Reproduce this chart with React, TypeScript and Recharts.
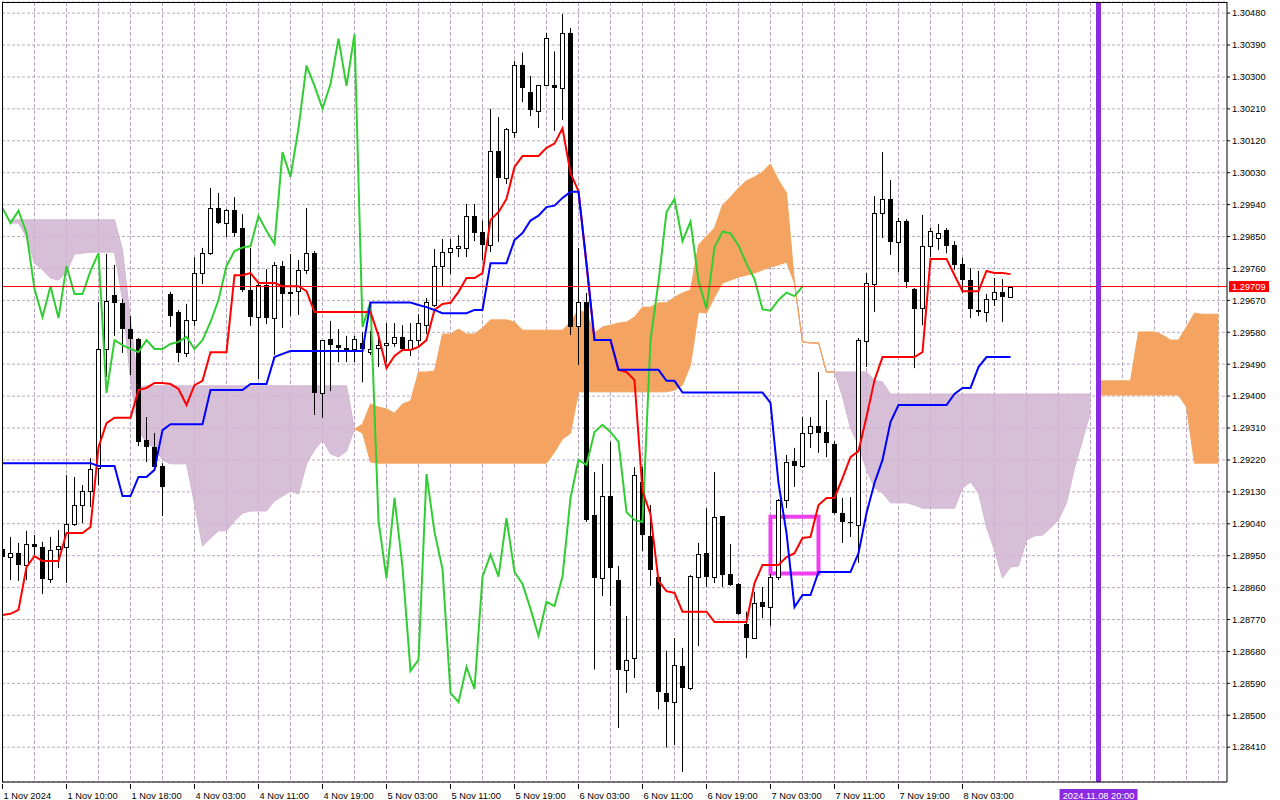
import React from 'react';
import {
  ComposedChart, Area, Bar, Line, XAxis, YAxis, CartesianGrid, ReferenceLine, ReferenceArea,
} from 'recharts';

// GBPUSD H1, bar 0 = 1 Nov 02:00. 127 candles, the kumo runs 26 bars past the last one.
const opens = [
  1.28969, 1.28946, 1.28957, 1.28924, 1.28983, 1.28975, 1.28884, 1.28969, 1.28975, 1.29039,
  1.29093, 1.29132, 1.29197, 1.29533, 1.29685, 1.29663, 1.29589, 1.29561, 1.29276, 1.29256,
  1.29203, 1.29688, 1.29637, 1.29522, 1.29615, 1.29747, 1.29803, 1.29930, 1.29888, 1.29925,
  1.29874, 1.29699, 1.29623, 1.29713, 1.29620, 1.29767, 1.29694, 1.29696, 1.29756, 1.29803,
  1.29409, 1.29561, 1.29544, 1.29536, 1.29533, 1.29550, 1.29524, 1.29536, 1.29544, 1.29550,
  1.29567, 1.29533, 1.29558, 1.29600, 1.29657, 1.29767, 1.29806, 1.29818, 1.29818, 1.29908,
  1.29863, 1.29825, 1.30090, 1.30015, 1.30145, 1.30334, 1.30258, 1.30204, 1.30277, 1.30277,
  1.30269, 1.30424, 1.29598, 1.29665, 1.29065, 1.28886, 1.29117, 1.28881, 1.28629, 1.28661,
  1.29158, 1.29006, 1.28890, 1.28563, 1.28539, 1.28640, 1.28577, 1.28890, 1.28957, 1.28890,
  1.29062, 1.28898, 1.28870, 1.28757, 1.28718, 1.28820, 1.28805, 1.28890, 1.29107, 1.29217,
  1.29203, 1.29296, 1.29316, 1.29299, 1.29265, 1.29070, 1.29045, 1.29037, 1.29555, 1.29716,
  1.29916, 1.29956, 1.29835, 1.29895, 1.29702, 1.29648, 1.29823, 1.29846, 1.29868, 1.29826,
  1.29773, 1.29727, 1.29643, 1.29637, 1.29674, 1.29694, 1.29682,
];
const highs = [
  1.28994, 1.29003, 1.28986, 1.29020, 1.29008, 1.28989, 1.29003, 1.29022, 1.29177, 1.29172,
  1.29149, 1.29225, 1.29665, 1.29801, 1.29770, 1.29674, 1.29626, 1.29564, 1.29341, 1.29296,
  1.29211, 1.29694, 1.29643, 1.29660, 1.29792, 1.29818, 1.29987, 1.29973, 1.29928, 1.29961,
  1.29913, 1.29818, 1.29716, 1.29758, 1.29778, 1.29781, 1.29801, 1.29784, 1.29930, 1.29809,
  1.29558, 1.29612, 1.29589, 1.29570, 1.29570, 1.29581, 1.29584, 1.29581, 1.29606, 1.29606,
  1.29600, 1.29606, 1.29631, 1.29677, 1.29815, 1.29843, 1.29843, 1.29854, 1.29942, 1.29942,
  1.29895, 1.30210, 1.30187, 1.30156, 1.30345, 1.30369, 1.30303, 1.30277, 1.30424, 1.30372,
  1.30477, 1.30438, 1.29818, 1.29691, 1.29186, 1.29209, 1.29271, 1.28921, 1.28780, 1.29200,
  1.29200, 1.29093, 1.28893, 1.28682, 1.28718, 1.28690, 1.28895, 1.28986, 1.29084, 1.29186,
  1.29062, 1.28983, 1.28873, 1.28792, 1.28848, 1.28862, 1.28898, 1.29110, 1.29234, 1.29254,
  1.29341, 1.29341, 1.29468, 1.29389, 1.29273, 1.29113, 1.29115, 1.29564, 1.29747, 1.29964,
  1.30088, 1.30009, 1.29903, 1.29899, 1.29705, 1.29911, 1.29874, 1.29885, 1.29874, 1.29837,
  1.29790, 1.29761, 1.29753, 1.29688, 1.29733, 1.29730, 1.29710,
];
const lows = [
  1.28921, 1.28881, 1.28879, 1.28881, 1.28946, 1.28842, 1.28873, 1.28915, 1.28873, 1.29034,
  1.29042, 1.29087, 1.29149, 1.29454, 1.29570, 1.29522, 1.29459, 1.29259, 1.29214, 1.29192,
  1.29062, 1.29595, 1.29496, 1.29510, 1.29598, 1.29716, 1.29798, 1.29885, 1.29849, 1.29849,
  1.29694, 1.29598, 1.29448, 1.29603, 1.29516, 1.29592, 1.29626, 1.29629, 1.29744, 1.29347,
  1.29339, 1.29414, 1.29496, 1.29496, 1.29496, 1.29439, 1.29516, 1.29482, 1.29496, 1.29539,
  1.29527, 1.29513, 1.29541, 1.29575, 1.29651, 1.29708, 1.29744, 1.29792, 1.29792, 1.29837,
  1.29784, 1.29806, 1.29835, 1.29998, 1.30128, 1.30229, 1.30190, 1.30156, 1.30275, 1.30148,
  1.30179, 1.29572, 1.29488, 1.29045, 1.28629, 1.28836, 1.28808, 1.28464, 1.28563, 1.28605,
  1.28963, 1.28865, 1.28517, 1.28409, 1.28416, 1.28340, 1.28571, 1.28695, 1.28862, 1.28873,
  1.28862, 1.28865, 1.28783, 1.28661, 1.28715, 1.28774, 1.28752, 1.28881, 1.29084, 1.29144,
  1.29197, 1.29254, 1.29240, 1.29228, 1.29067, 1.28986, 1.29003, 1.28930, 1.29482, 1.29637,
  1.29846, 1.29798, 1.29750, 1.29705, 1.29479, 1.29600, 1.29792, 1.29812, 1.29803, 1.29756,
  1.29691, 1.29620, 1.29626, 1.29609, 1.29654, 1.29609, 1.29679,
];
const closes = [
  1.28946, 1.28957, 1.28924, 1.28983, 1.28975, 1.28884, 1.28966, 1.28977, 1.29039, 1.29093,
  1.29132, 1.29194, 1.29533, 1.29668, 1.29663, 1.29589, 1.29561, 1.29271, 1.29256, 1.29200,
  1.29144, 1.29626, 1.29522, 1.29615, 1.29747, 1.29803, 1.29930, 1.29888, 1.29925, 1.29860,
  1.29699, 1.29623, 1.29713, 1.29620, 1.29770, 1.29688, 1.29688, 1.29756, 1.29803, 1.29409,
  1.29558, 1.29544, 1.29536, 1.29524, 1.29561, 1.29533, 1.29533, 1.29544, 1.29551, 1.29567,
  1.29533, 1.29558, 1.29606, 1.29665, 1.29767, 1.29806, 1.29818, 1.29823, 1.29908, 1.29860,
  1.29825, 1.30090, 1.30015, 1.30153, 1.30334, 1.30269, 1.30207, 1.30277, 1.30410, 1.30269,
  1.30424, 1.29595, 1.29665, 1.29051, 1.28886, 1.29117, 1.28915, 1.28626, 1.28657, 1.29177,
  1.29008, 1.28910, 1.28566, 1.28539, 1.28643, 1.28577, 1.28893, 1.28955, 1.28890, 1.29059,
  1.28895, 1.28867, 1.28786, 1.28718, 1.28816, 1.28805, 1.28890, 1.29107, 1.29214, 1.29203,
  1.29295, 1.29316, 1.29296, 1.29268, 1.29070, 1.29045, 1.29042, 1.29558, 1.29719, 1.29916,
  1.29956, 1.29835, 1.29895, 1.29722, 1.29646, 1.29823, 1.29866, 1.29860, 1.29823, 1.29770,
  1.29727, 1.29646, 1.29637, 1.29674, 1.29694, 1.29679, 1.29709,
];

const tenkan = [
  1.28783, 1.28786, 1.28797, 1.28918, 1.28949, 1.28935, 1.28935, 1.28935, 1.29014, 1.29014,
  1.29014, 1.29031, 1.29256, 1.29324, 1.29339, 1.29339, 1.29339, 1.29417, 1.29423, 1.29437,
  1.29437, 1.29434, 1.29420, 1.29375, 1.29431, 1.29443, 1.29524, 1.29524, 1.29524, 1.29741,
  1.29741, 1.29747, 1.29719, 1.29719, 1.29719, 1.29710, 1.29710, 1.29710, 1.29696, 1.29637,
  1.29637, 1.29637, 1.29637, 1.29637, 1.29637, 1.29637, 1.29637, 1.29570, 1.29479, 1.29513,
  1.29530, 1.29530, 1.29539, 1.29558, 1.29643, 1.29660, 1.29663, 1.29694, 1.29733, 1.29733,
  1.29747, 1.29897, 1.29919, 1.29956, 1.30046, 1.30077, 1.30077, 1.30077, 1.30100, 1.30112,
  1.30155, 1.30029, 1.29978, 1.29770, 1.29558, 1.29558, 1.29558, 1.29474, 1.29468, 1.29445,
  1.29132, 1.29067, 1.28879, 1.28850, 1.28845, 1.28792, 1.28792, 1.28792, 1.28792, 1.28763,
  1.28763, 1.28763, 1.28763, 1.28763, 1.28873, 1.28924, 1.28924, 1.28924, 1.28946, 1.28957,
  1.29000, 1.29003, 1.29093, 1.29113, 1.29113, 1.29169, 1.29228, 1.29245, 1.29341, 1.29445,
  1.29510, 1.29510, 1.29510, 1.29510, 1.29510, 1.29524, 1.29787, 1.29787, 1.29787, 1.29741,
  1.29696, 1.29696, 1.29696, 1.29753, 1.29747, 1.29747, 1.29744,
];
const kijun = [
  1.29211, 1.29211, 1.29211, 1.29211, 1.29211, 1.29211, 1.29211, 1.29211, 1.29211, 1.29211,
  1.29211, 1.29211, 1.29203, 1.29203, 1.29203, 1.29118, 1.29118, 1.29172, 1.29172, 1.29192,
  1.29304, 1.29321, 1.29321, 1.29321, 1.29321, 1.29321, 1.29417, 1.29417, 1.29417, 1.29417,
  1.29417, 1.29434, 1.29434, 1.29434, 1.29510, 1.29519, 1.29527, 1.29527, 1.29527, 1.29527,
  1.29527, 1.29527, 1.29527, 1.29527, 1.29527, 1.29527, 1.29664, 1.29664, 1.29664, 1.29664,
  1.29664, 1.29664, 1.29657, 1.29651, 1.29643, 1.29634, 1.29634, 1.29634, 1.29634, 1.29643,
  1.29643, 1.29775, 1.29775, 1.29775, 1.29840, 1.29860, 1.29895, 1.29909, 1.29933, 1.29937,
  1.29959, 1.29976, 1.29976, 1.29775, 1.29558, 1.29558, 1.29558, 1.29474, 1.29474, 1.29474,
  1.29474, 1.29474, 1.29474, 1.29443, 1.29443, 1.29410, 1.29410, 1.29410, 1.29410, 1.29410,
  1.29410, 1.29410, 1.29410, 1.29410, 1.29410, 1.29410, 1.29381, 1.29155, 1.29014, 1.28805,
  1.28839, 1.28839, 1.28904, 1.28904, 1.28904, 1.28904, 1.28904, 1.28957, 1.29070, 1.29155,
  1.29220, 1.29327, 1.29375, 1.29375, 1.29375, 1.29375, 1.29375, 1.29375, 1.29375, 1.29406,
  1.29423, 1.29423, 1.29482, 1.29510, 1.29510, 1.29510, 1.29510,
];
const chikou = [
  1.29930, 1.29888, 1.29923, 1.29860, 1.29702, 1.29623, 1.29710, 1.29620, 1.29767, 1.29688,
  1.29688, 1.29753, 1.29803, 1.29409, 1.29558, 1.29544, 1.29533, 1.29524, 1.29558, 1.29533,
  1.29533, 1.29547, 1.29553, 1.29567, 1.29533, 1.29558, 1.29609, 1.29671, 1.29767, 1.29809,
  1.29819, 1.29823, 1.29908, 1.29866, 1.29829, 1.30088, 1.30018, 1.30156, 1.30332, 1.30275,
  1.30211, 1.30280, 1.30408, 1.30275, 1.30421, 1.29595, 1.29665, 1.29048, 1.28886, 1.29113,
  1.28918, 1.28625, 1.28656, 1.29180, 1.29017, 1.28912, 1.28563, 1.28537, 1.28636, 1.28574,
  1.28891, 1.28953, 1.28891, 1.29056, 1.28904, 1.28870, 1.28800, 1.28724, 1.28820, 1.28808,
  1.28891, 1.29113, 1.29220, 1.29206, 1.29299, 1.29319, 1.29299, 1.29271, 1.29073, 1.29051,
  1.29045, 1.29558, 1.29722, 1.29919, 1.29956, 1.29837, 1.29892, 1.29725, 1.29646, 1.29820,
  1.29864, 1.29859, 1.29825, 1.29773, 1.29730, 1.29645, 1.29641, 1.29671, 1.29692, 1.29682,
  1.29709,
];
const spanA = [
  1.29933, 1.29888, 1.29888, 1.29849, 1.29775, 1.29756, 1.29733, 1.29727, 1.29750, 1.29801,
  1.29803, 1.29806, 1.29806, 1.29806, 1.29806, 1.29671, 1.29445, 1.29304, 1.29268, 1.29254,
  1.29220, 1.29209, 1.29209, 1.29209, 1.29096, 1.28977, 1.29000, 1.29020, 1.29020, 1.29048,
  1.29070, 1.29076, 1.29076, 1.29076, 1.29104, 1.29118, 1.29132, 1.29124, 1.29209, 1.29248,
  1.29276, 1.29237, 1.29228, 1.29245, 1.29307, 1.29321, 1.29378, 1.29369, 1.29364, 1.29352,
  1.29378, 1.29386, 1.29468, 1.29468, 1.29471, 1.29575, 1.29575, 1.29589, 1.29575, 1.29575,
  1.29592, 1.29615, 1.29615, 1.29615, 1.29609, 1.29586, 1.29586, 1.29586, 1.29586, 1.29586,
  1.29586, 1.29609, 1.29643, 1.29634, 1.29578, 1.29595, 1.29600, 1.29606, 1.29609, 1.29623,
  1.29651, 1.29651, 1.29663, 1.29663, 1.29679, 1.29691, 1.29699, 1.29826, 1.29851, 1.29874,
  1.29939, 1.29961, 1.29987, 1.30007, 1.30018, 1.30032, 1.30055, 1.30009, 1.29973, 1.29719,
  1.29553, 1.29550, 1.29550, 1.29468, 1.29468, 1.29398, 1.29310, 1.29262, 1.29192, 1.29141,
  1.29127, 1.29099, 1.29099, 1.29099, 1.29093, 1.29084, 1.29084, 1.29084, 1.29084, 1.29084,
  1.29141, 1.29158, 1.29127, 1.29031, 1.28966, 1.28887, 1.28918, 1.28921, 1.28994, 1.29006,
  1.29008, 1.29028, 1.29051, 1.29099, 1.29197, 1.29276, 1.29355, 1.29443, 1.29443, 1.29443,
  1.29443, 1.29443, 1.29581, 1.29581, 1.29581, 1.29572, 1.29558, 1.29558, 1.29595, 1.29634,
  1.29631, 1.29631, 1.29631,
];
const spanB = [
  1.29897, 1.29897, 1.29897, 1.29897, 1.29897, 1.29897, 1.29897, 1.29897, 1.29897, 1.29897,
  1.29897, 1.29897, 1.29897, 1.29897, 1.29897, 1.29812, 1.29615, 1.29426, 1.29429, 1.29429,
  1.29429, 1.29429, 1.29429, 1.29429, 1.29429, 1.29429, 1.29429, 1.29429, 1.29429, 1.29429,
  1.29429, 1.29429, 1.29429, 1.29429, 1.29429, 1.29429, 1.29429, 1.29429, 1.29429, 1.29429,
  1.29429, 1.29429, 1.29429, 1.29429, 1.29307, 1.29296, 1.29214, 1.29211, 1.29211, 1.29211,
  1.29211, 1.29211, 1.29211, 1.29211, 1.29211, 1.29211, 1.29211, 1.29211, 1.29211, 1.29211,
  1.29211, 1.29211, 1.29211, 1.29211, 1.29211, 1.29211, 1.29211, 1.29211, 1.29211, 1.29242,
  1.29279, 1.29295, 1.29412, 1.29412, 1.29412, 1.29412, 1.29412, 1.29412, 1.29412, 1.29412,
  1.29412, 1.29412, 1.29412, 1.29412, 1.29417, 1.29431, 1.29488, 1.29637, 1.29634, 1.29679,
  1.29719, 1.29727, 1.29736, 1.29741, 1.29747, 1.29756, 1.29764, 1.29770, 1.29778, 1.29719,
  1.29553, 1.29550, 1.29550, 1.29468, 1.29468, 1.29468, 1.29468, 1.29468, 1.29468, 1.29445,
  1.29440, 1.29406, 1.29406, 1.29406, 1.29406, 1.29406, 1.29406, 1.29406, 1.29406, 1.29406,
  1.29406, 1.29406, 1.29406, 1.29406, 1.29406, 1.29406, 1.29406, 1.29406, 1.29406, 1.29406,
  1.29406, 1.29406, 1.29406, 1.29406, 1.29406, 1.29406, 1.29406, 1.29403, 1.29403, 1.29403,
  1.29403, 1.29403, 1.29403, 1.29403, 1.29403, 1.29403, 1.29403, 1.29403, 1.29369, 1.29211,
  1.29211, 1.29211, 1.29211,
];

const xTickBars = [0, 8, 16, 24, 32, 40, 48, 56, 64, 72, 80, 88, 96, 104, 112, 120];
const xTickLabels = [
  '1 Nov 2024', '1 Nov 10:00', '1 Nov 18:00', '4 Nov 03:00', '4 Nov 11:00', '4 Nov 19:00',
  '5 Nov 03:00', '5 Nov 11:00', '5 Nov 19:00', '6 Nov 03:00', '6 Nov 11:00', '6 Nov 19:00',
  '7 Nov 03:00', '7 Nov 11:00', '7 Nov 19:00', '8 Nov 03:00',
];
const gridBars = [
  0, 4, 8, 12, 16, 20, 24, 28, 32, 36, 40, 44, 48, 52, 56, 60, 64, 68, 72, 76,
  80, 84, 88, 92, 96, 100, 104, 108, 112, 116, 120, 124, 128, 132, 136, 140, 144, 148, 152,
];
const priceTicks = [
  1.28410, 1.28500, 1.28590, 1.28680, 1.28770, 1.28860, 1.28950, 1.29040, 1.29130, 1.29220,
  1.29310, 1.29400, 1.29490, 1.29580, 1.29670, 1.29760, 1.29850, 1.29940, 1.30030, 1.30120,
  1.30210, 1.30300, 1.30390, 1.30480,
];

const bidPrice = 1.29709;
const markerBar = 137;
const markerLabel = '2024.11.08 20:00';
const boxBars = [96, 102];
const boxPrices = [1.28900, 1.29060];

const FONT = '"Liberation Sans", Arial, sans-serif';
const GRID = '#bba9bf';

const data = spanA.map((a, k) => {
  const b = spanB[k];
  const hasCandle = k < closes.length;
  return {
    k,
    range: hasCandle ? [lows[k], highs[k]] : undefined,
    open: hasCandle ? opens[k] : null,
    high: hasCandle ? highs[k] : null,
    low: hasCandle ? lows[k] : null,
    close: hasCandle ? closes[k] : null,
    tenkan: tenkan[k] ?? null,
    kijun: kijun[k] ?? null,
    chikou: chikou[k] ?? null,
    kumoUp: a >= b ? [b, a] : null,
    kumoDown: a <= b ? [a, b] : null,
  };
});

// body/wick positions come from the bar the library laid out for [low, high]
function Candle(props: any) {
  const { x, y, width, height, payload } = props;
  if (!payload || payload.high == null || !Number.isFinite(y) || !Number.isFinite(height)) return null;
  const top = Math.min(y, y + height);
  const span = Math.abs(height);
  const perUnit = span / (payload.high - payload.low || 1);
  const at = (v: number) => top + (payload.high - v) * perUnit;
  const cx = Math.floor(x + width / 2) + 0.5;
  const yo = at(payload.open);
  const yc = at(payload.close);
  const bull = payload.close > payload.open;
  const bTop = Math.round(Math.min(yo, yc));
  const bH = Math.max(1, Math.round(Math.abs(yo - yc)));
  return (
    <g>
      <line x1={cx} x2={cx} y1={top} y2={top + span} stroke="#000" strokeWidth={1} />
      {bull ? (
        <rect x={cx - 2} y={bTop + 0.5} width={4} height={bH} fill="#fff" stroke="#000" strokeWidth={1} />
      ) : (
        <rect x={cx - 2.5} y={bTop} width={5} height={bH} fill="#000" />
      )}
    </g>
  );
}

const TimeTick = ({ x, y, payload }: any) => {
  const i = xTickBars.indexOf(payload.value);
  const lx = Math.floor(x) + 0.5;
  return (
    <g>
      <line x1={lx} x2={lx} y1={y} y2={y + 5} stroke="#000" />
      <text x={x + 1} y={y + 15} fontSize={9.3} fontFamily={FONT} fill="#000">{xTickLabels[i]}</text>
    </g>
  );
};

const PriceTag = ({ viewBox }: any) => {
  const right = viewBox.x + viewBox.width;
  return (
    <g>
      <rect x={right + 2} y={viewBox.y - 5.5} width={40} height={11} fill="#ff0000" />
      <text x={right + 5} y={viewBox.y + 3.5} fontSize={9.3} fontFamily={FONT} fill="#fff">
        {bidPrice.toFixed(5)}
      </text>
    </g>
  );
};

const MarkerTag = ({ viewBox }: any) => {
  const cx = viewBox.x;
  const bottom = viewBox.y + viewBox.height;
  return (
    <g>
      <rect x={cx - 39} y={bottom + 7} width={78} height={12} fill="#8a2be2" />
      <text x={cx} y={bottom + 16.5} textAnchor="middle" fontSize={9.3} fontFamily={FONT} fill="#fff">
        {markerLabel}
      </text>
    </g>
  );
};

export default function App() {
  return (
    <div style={{ position: 'absolute', left: 0, top: 0, width: 1280, height: 800, background: '#fff' }}>
      <ComposedChart width={1280} height={800} data={data} margin={{ top: 2, right: 0, bottom: 0, left: 2 }}>
        <CartesianGrid vertical={false} stroke={GRID} strokeDasharray="3 2" />
        <CartesianGrid horizontal={false} verticalValues={gridBars} stroke={GRID} strokeDasharray="4 2" />
        <XAxis
          dataKey="k"
          type="number"
          domain={[-0.0625, 153.0625]}
          allowDataOverflow
          ticks={xTickBars}
          interval={0}
          tick={<TimeTick />}
          tickLine={false}
          tickSize={0}
          axisLine={{ stroke: '#000' }}
          height={18}
        />
        <YAxis
          orientation="right"
          type="number"
          domain={[1.283118, 1.305114]}
          allowDataOverflow
          ticks={priceTicks}
          interval={0}
          tickFormatter={(v: number) => v.toFixed(5)}
          width={53}
          tickSize={3}
          tickMargin={2}
          axisLine={{ stroke: '#000' }}
          tickLine={{ stroke: '#000' }}
          tick={{ fontSize: 9.3, fill: '#000', fontFamily: FONT }}
        />

        {/* kumo; the thistle part lets the grid show through like the terminal does */}
        <Area type="linear" dataKey="kumoDown" stroke="#d3b6d3" strokeWidth={1} fill="#d0b1d0" fillOpacity={0.82}
          dot={false} activeDot={false} isAnimationActive={false} />
        <Area type="linear" dataKey="kumoUp" stroke="#f4a460" strokeWidth={1} fill="#f4a460" fillOpacity={1}
          dot={false} activeDot={false} isAnimationActive={false} />

        <Bar dataKey="range" barSize={5} shape={Candle} isAnimationActive={false} />

        <Line type="linear" dataKey="chikou" stroke="#32cd32" strokeWidth={2} dot={false} activeDot={false} isAnimationActive={false} />
        <Line type="linear" dataKey="tenkan" stroke="#ff0000" strokeWidth={2} dot={false} activeDot={false} isAnimationActive={false} />
        <Line type="linear" dataKey="kijun" stroke="#0000ff" strokeWidth={2} dot={false} activeDot={false} isAnimationActive={false} />

        <ReferenceLine y={bidPrice} stroke="#ff0000" strokeWidth={1} label={PriceTag} />
        <ReferenceLine x={markerBar} stroke="#8a2be2" strokeWidth={5} label={MarkerTag} />
        <ReferenceArea x1={boxBars[0]} x2={boxBars[1]} y1={boxPrices[0]} y2={boxPrices[1]}
          fill="none" fillOpacity={0} stroke="#ee40ee" strokeWidth={4} />
      </ComposedChart>
      <div style={{
        position: 'absolute', left: 2, top: 2, width: 1225, height: 780, boxSizing: 'border-box',
        borderLeft: '1px solid #000', borderTop: '1px solid #000', pointerEvents: 'none',
      }} />
    </div>
  );
}
